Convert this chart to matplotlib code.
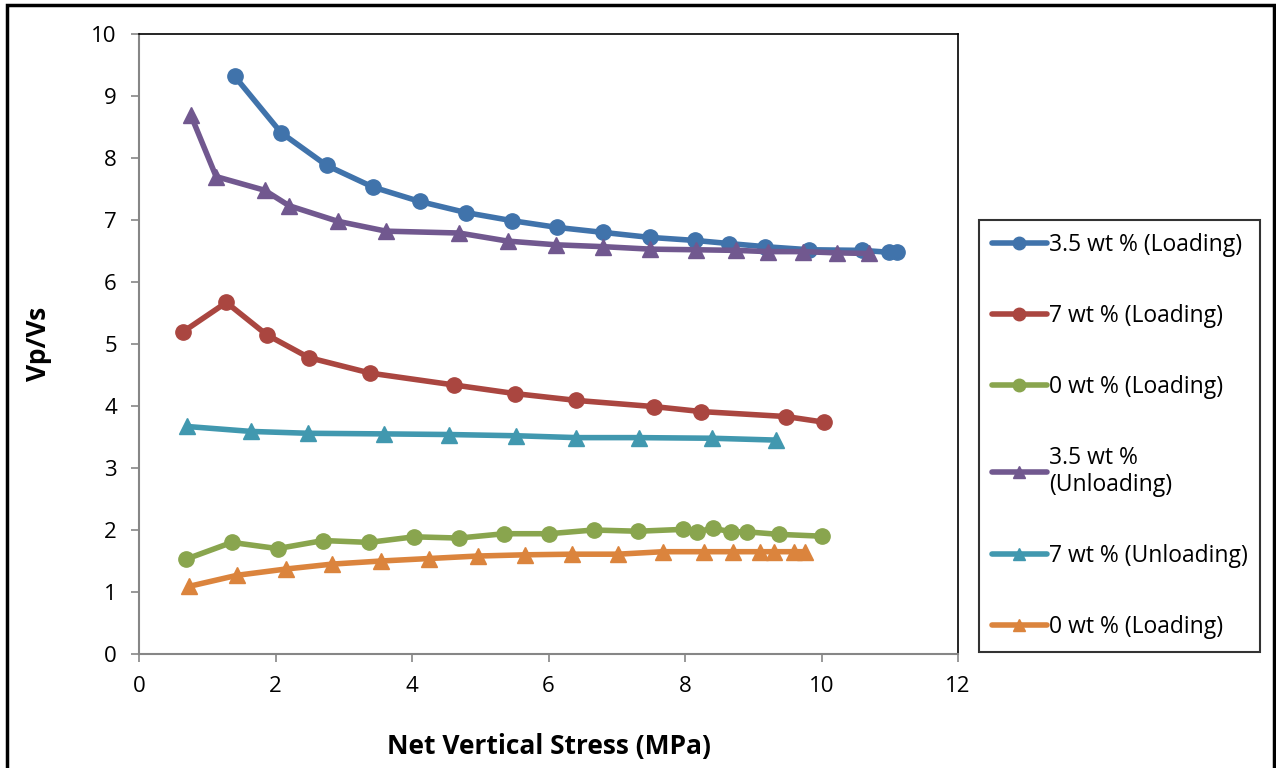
import matplotlib
matplotlib.use("Agg")
import matplotlib.pyplot as plt
from matplotlib.patches import Rectangle

plt.rcParams['font.family'] = ['Open Sans', 'DejaVu Sans']

# 3.5 wt % loading
x_35_load = [1.40, 2.08, 2.75, 3.43, 4.11, 4.79, 5.46, 6.13, 6.80, 7.48, 8.15, 8.65, 9.17, 9.82, 10.59, 10.99, 11.10]
y_35_load = [9.32, 8.41, 7.88, 7.53, 7.30, 7.12, 6.99, 6.88, 6.80, 6.72, 6.67, 6.62, 6.57, 6.52, 6.51, 6.48, 6.48]

# 7 wt % loading
x_7_load = [0.65, 1.28, 1.87, 2.49, 3.39, 4.61, 5.51, 6.41, 7.55, 8.24, 9.48, 10.03]
y_7_load = [5.20, 5.67, 5.15, 4.78, 4.53, 4.34, 4.20, 4.09, 3.99, 3.91, 3.83, 3.74]

# 0 wt % loading (circles)
x_0_load = [0.69, 1.36, 2.03, 2.70, 3.37, 4.03, 4.69, 5.35, 6.01, 6.66, 7.31, 7.97, 8.18, 8.41, 8.67, 8.91, 9.37, 10.01]
y_0_load = [1.53, 1.80, 1.70, 1.83, 1.80, 1.89, 1.87, 1.94, 1.94, 2.00, 1.98, 2.01, 1.97, 2.03, 1.97, 1.97, 1.93, 1.90]

# 3.5 wt % unloading
x_35_unload = [0.76, 1.13, 1.84, 2.20, 2.91, 3.62, 4.69, 5.40, 6.11, 6.80, 7.49, 8.16, 8.75, 9.22, 9.73, 10.22, 10.69]
y_35_unload = [8.69, 7.70, 7.48, 7.23, 6.98, 6.82, 6.79, 6.66, 6.60, 6.57, 6.53, 6.52, 6.51, 6.49, 6.49, 6.47, 6.46]

# 7 wt % unloading
x_7_unload = [0.70, 1.64, 2.48, 3.59, 4.54, 5.53, 6.41, 7.32, 8.39, 9.34]
y_7_unload = [3.67, 3.59, 3.56, 3.55, 3.54, 3.52, 3.49, 3.49, 3.48, 3.45]

# 0 wt % (triangles)
x_0_tri = [0.73, 1.44, 2.15, 2.83, 3.55, 4.25, 4.96, 5.66, 6.35, 7.02, 7.68, 8.28, 8.70, 9.10, 9.31, 9.59, 9.76]
y_0_tri = [1.09, 1.27, 1.37, 1.45, 1.50, 1.54, 1.58, 1.60, 1.61, 1.61, 1.65, 1.65, 1.65, 1.65, 1.65, 1.65, 1.65]

series = [
    (x_35_load, y_35_load, '#4073ab', 'o', '3.5 wt % (Loading)'),
    (x_7_load, y_7_load, '#aa4640', 'o', '7 wt % (Loading)'),
    (x_0_load, y_0_load, '#89a54e', 'o', '0 wt % (Loading)'),
    (x_35_unload, y_35_unload, '#71588f', '^', '3.5 wt %\n(Unloading)'),
    (x_7_unload, y_7_unload, '#4198af', '^', '7 wt % (Unloading)'),
    (x_0_tri, y_0_tri, '#db843d', '^', '0 wt % (Loading)'),
]

fig = plt.figure(figsize=(12.76, 7.68), dpi=100)
ax = fig.add_axes([139 / 1276, 1 - 654 / 768, (958 - 139) / 1276, (654 - 34) / 768])

for xs, ys, c, m, lab in series:
    ax.plot(xs, ys, color=c, marker=m, markersize=11, linewidth=4, label=lab,
            markeredgecolor=c, solid_capstyle='round', solid_joinstyle='round')

ax.set_xlim(0, 12)
ax.set_ylim(0, 10)
ax.set_xticks(range(0, 13, 2))
ax.set_yticks(range(0, 11))
ax.tick_params(direction='out', length=6, width=1.2, color='#868686', labelsize=16, pad=10)

for s in ['left', 'bottom']:
    ax.spines[s].set_color('#868686')
    ax.spines[s].set_linewidth(1.5)
for s in ['top', 'right']:
    ax.spines[s].set_color('black')
    ax.spines[s].set_linewidth(1.2)

ax.set_xlabel('Net Vertical Stress (MPa)', fontsize=19, fontweight='bold', labelpad=26)
ax.set_ylabel('Vp/Vs', fontsize=19, fontweight='bold', labelpad=28)

leg = fig.legend(loc='upper left', bbox_to_anchor=(979 / 1276, 1 - 220 / 768),
                 fontsize=16.5, frameon=True, fancybox=False, edgecolor='black',
                 labelspacing=2.05, handlelength=2.4, handletextpad=0.1,
                 borderpad=0.55, borderaxespad=0)
leg.get_frame().set_linewidth(1.5)
for h in leg.legend_handles:
    h.set_markersize(9)

# outer chart border
fig.patches.append(Rectangle((7 / 1276, -0.05), (1274 - 7) / 1276, 1.05 - 5 / 768,
                             transform=fig.transFigure, fill=False,
                             edgecolor='black', linewidth=2.5, clip_on=False))

fig.savefig('out.png', dpi=100)
